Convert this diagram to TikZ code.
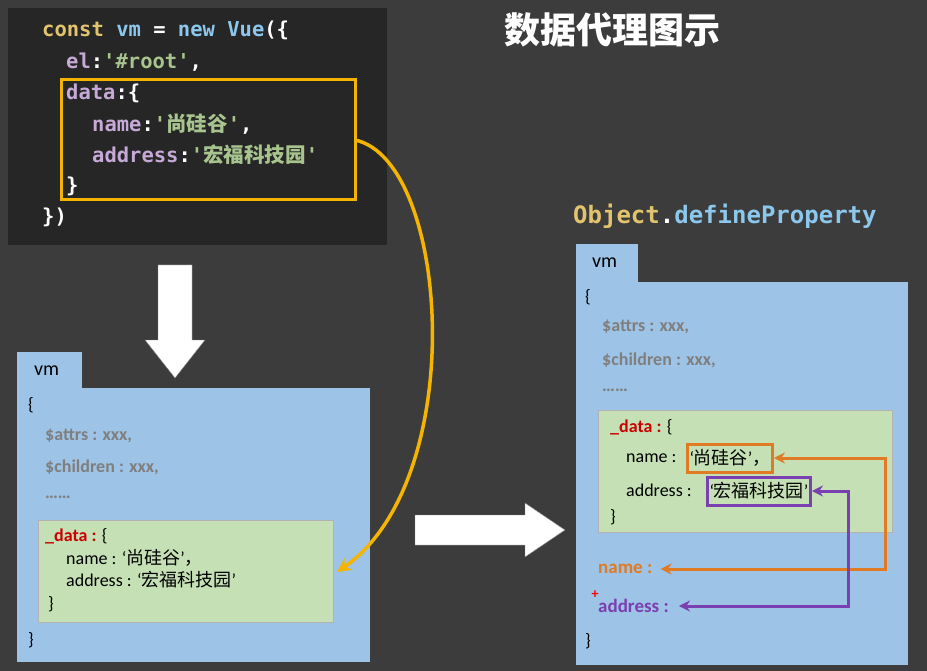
\documentclass[tikz,border=0pt]{standalone}
\usepackage{fontspec}
\setmainfont{Carlito}
\newfontfamily\cjk{Noto Sans CJK SC}
\newfontfamily\mono{DejaVu Sans Mono}
\usetikzlibrary{arrows.meta}
\definecolor{bg}{HTML}{3C3C3C}
\definecolor{codebg}{HTML}{262626}
\definecolor{kwY}{HTML}{E3C46E}
\definecolor{kwB}{HTML}{8CC8EE}
\definecolor{kwP}{HTML}{C6A9D6}
\definecolor{strG}{HTML}{A8C48E}
\definecolor{vmblue}{HTML}{9DC3E6}
\definecolor{dgreen}{HTML}{C5E0B4}
\definecolor{ora}{HTML}{E07A24}
\definecolor{pur}{HTML}{7A3FB0}
\definecolor{gold}{HTML}{F5B400}
\definecolor{gtxt}{HTML}{7F7F7F}
\tikzset{
 code/.style={anchor=west,inner sep=0pt,font=\mono\bfseries\fontsize{20.5}{20.5}\selectfont},
 txt/.style={anchor=west,inner sep=0pt,font=\fontsize{18}{18}\selectfont},
 gtx/.style={txt,text=gtxt,font=\bfseries\fontsize{18}{18}\selectfont},
 panel/.style={fill=vmblue,draw=none},
 dbox/.style={fill=dgreen,draw=gray!60,line width=1pt},
 link/.style={line width=3pt,>={Stealth[length=11pt,width=11pt]},<->},
}
\begin{document}
\begin{tikzpicture}[x=1pt,y=-1pt]
\useasboundingbox (0,0) rectangle (927,671);
\fill[bg] (0,0) rectangle (927,671);
% code panel
\fill[codebg] (8,8) rectangle (387,245);
\node[code] (c1) at (42,30) {\textcolor{kwY}{const} \textcolor{kwB}{vm} \textcolor{white!85}{=} \textcolor{kwB}{new} \textcolor{kwB}{Vue}\textcolor{white!85}{(\{}};
\node[code] (c2) at (66,62) {\textcolor{kwP}{el}\textcolor{white!85}{:}\textcolor{strG}{'\#root'}\textcolor{white!85}{,}};
\node[code] (c3) at (66,93) {\textcolor{kwP}{data}\textcolor{white!85}{:\{}};
\node[code] (c4) at (92,124) {\textcolor{kwP}{name}\textcolor{white!85}{:}\textcolor{strG}{'{\cjk 尚硅谷}'}\textcolor{white!85}{,}};
\node[code] (c5) at (92,155) {\textcolor{kwP}{address}\textcolor{white!85}{:}\textcolor{strG}{'{\cjk 宏福科技园}'}};
\node[code,text=white!85] (c6) at (66,186) {\}};
\node[code,text=white!85] (c7) at (42,217) {\})};
\draw[gold,line width=3pt] (61,80) rectangle (355,200);
\coordinate (src) at (355,140);
% title
\node[font=\cjk\bfseries\fontsize{36}{36}\selectfont,text=white] (title) at (612,30) {数据代理图示};
% down arrow
\fill[white,draw=gray] (158,265) -- (192,265) -- (192,340) -- (205,340) -- (175,378) -- (145,340) -- (158,340) -- cycle;
% left vm
\fill[panel] (17,352) rectangle (82,390);
\fill[panel] (17,388) rectangle (370,662);
\node[txt] (lvm) at (34,371) {\fontsize{20}{20}\selectfont vm};
\node[txt] (lb1) at (28,405) {\{};
\node[gtx] (la) at (45,436) {\$attrs : xxx,};
\node[gtx] (lc) at (45,467) {\$children : xxx,};
\node[gtx] (ld) at (45,497) {\ldots\ldots};
\draw[dbox] (38,520) rectangle (333,622);
\node[txt] (ld1) at (45,536) {\textcolor{red!80!black}{\textbf{\_data :}} \{};
\node[txt] (ln) at (66,558) {name : `{\cjk 尚硅谷}'{\cjk ，}};
\node[txt] (lad) at (66,580) {address : `{\cjk 宏福科技园}'};
\node[txt] (lb2) at (48,604) {\}};
\node[txt] (lb3) at (28,640) {\}};
\coordinate (dst) at (337,572);
\draw[gold,line width=3.5pt,-{Stealth[length=14pt,width=14pt]}] (src) .. controls (450,160) and (470,480) .. (dst);
% right arrow
\fill[white,draw=gray] (415,515) -- (525,515) -- (525,503) -- (565,530) -- (525,557) -- (525,545) -- (415,545) -- cycle;
% Object.defineProperty
\node[anchor=west,inner sep=0pt,font=\mono\bfseries\fontsize{24}{24}\selectfont] (odp) at (573,216) {\textcolor{kwY}{Object}\textcolor{white}{.}\textcolor{kwB}{defineProperty}};
% right vm
\fill[panel] (576,244) rectangle (638,284);
\fill[panel] (576,282) rectangle (908,665);
\node[txt] (rvm) at (592,263) {\fontsize{20}{20}\selectfont vm};
\node[txt] (rb1) at (585,297) {\{};
\node[gtx] (ra) at (602,327) {\$attrs : xxx,};
\node[gtx] (rc) at (602,360) {\$children : xxx,};
\node[gtx] (rd) at (602,390) {\ldots\ldots};
\draw[dbox] (598,410) rectangle (892,532);
\node[txt] (rd1) at (610,427) {\textcolor{red!80!black}{\textbf{\_data :}} \{};
\node[txt] (rn) at (626,458) {name :};
\node[txt,draw=ora,line width=3pt,inner sep=2pt,minimum height=28pt] (rnv) at (686,458) {`{\cjk 尚硅谷}'{\cjk ，}};
\node[txt] (rad) at (626,490) {address :};
\node[txt,draw=pur,line width=3pt,inner sep=2pt,minimum height=28pt] (radv) at (706,491) {`{\cjk 宏福科技园}'};
\node[txt] (rb2) at (610,517) {\}};
\node[txt,text=ora,font=\bfseries\fontsize{19}{19}\selectfont] (pn) at (598,569) {name :};
\node[txt,text=pur,font=\bfseries\fontsize{19}{19}\selectfont] (pa) at (598,606) {address :};
\node[text=red,inner sep=0pt,font=\bfseries\fontsize{14}{14}\selectfont] (plus) at (595,595) {+};
\node[txt] (rb3) at (585,641) {\}};
\draw[link,ora] (rnv.east) -- (885,458) -- (885,569) -- ([xshift=8pt]pn.east);
\draw[link,pur] (radv.east) -- (848,491) -- (848,606) -- ([xshift=10pt]pa.east);
\end{tikzpicture}
\end{document}
